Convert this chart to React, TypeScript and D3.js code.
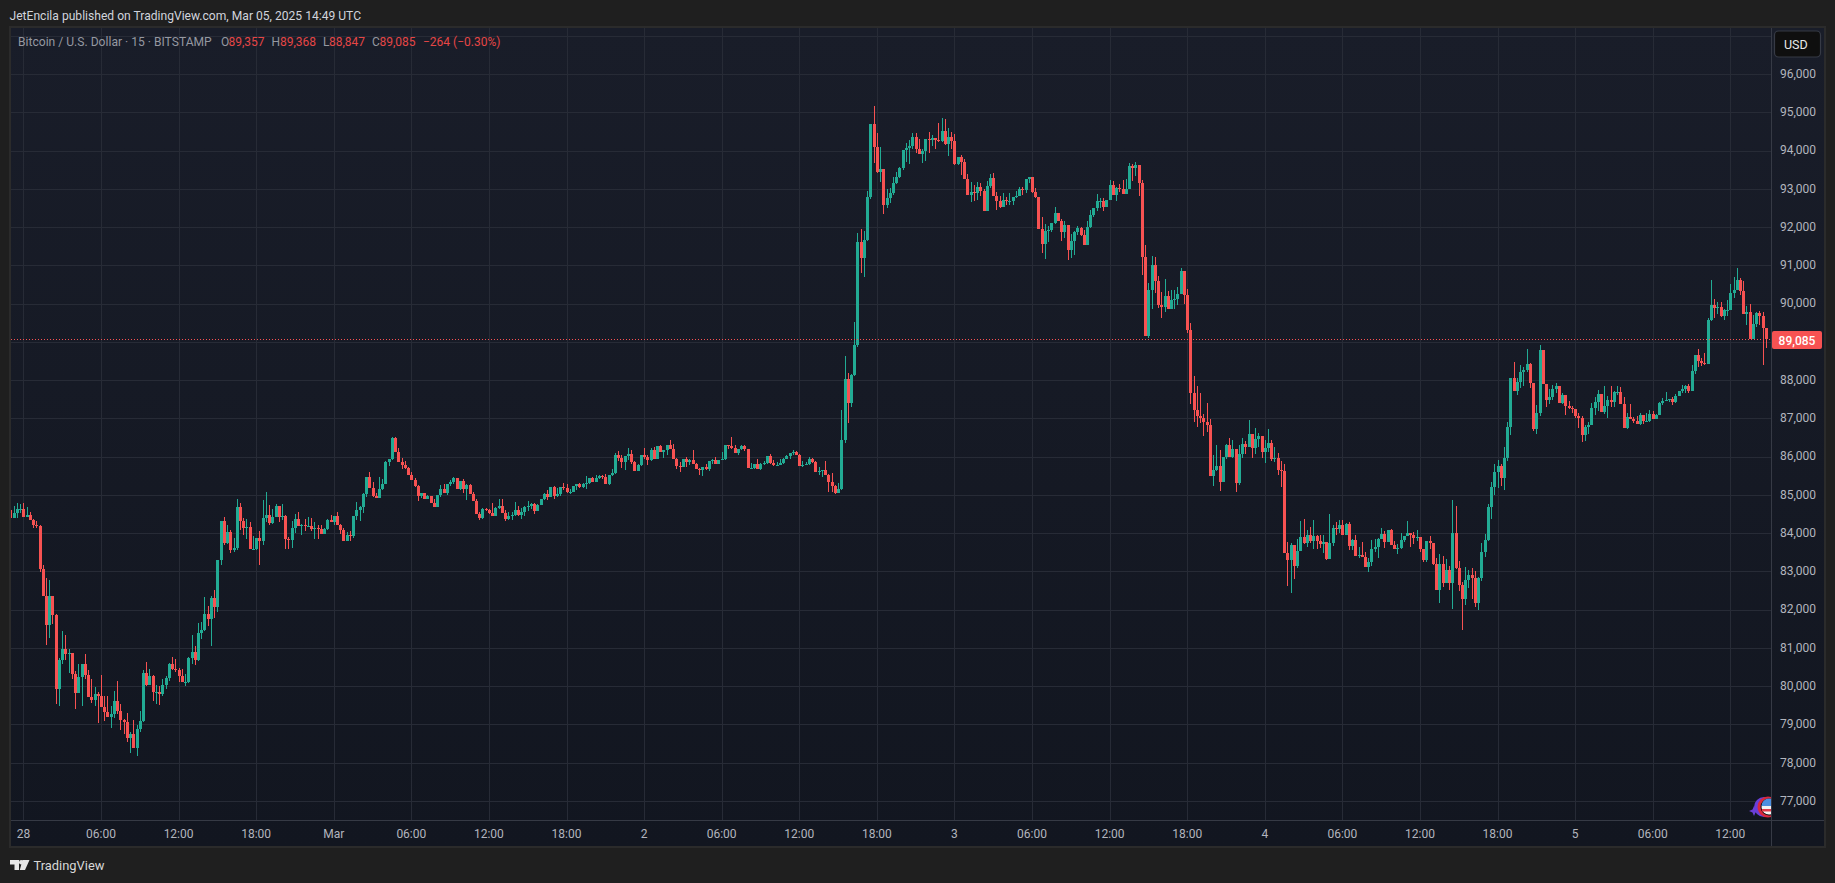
import React from 'react';
import * as d3 from 'd3';

const WIDTH = 1835;
const HEIGHT = 883;

// BTCUSD 15m candles, opens follow the previous close
const firstOpen = 84610;

const closesA = [84390, 84520, 84630, 84630, 84430, 84470, 84350, 84220, 84190, 83070, 82360, 81600, 82360, 81870, 79930, 80690, 80980, 80850, 80880, 80320, 79830, 80250, 80580, 80280, 79720, 79640, 79800, 79750, 79460, 79330, 79200, 79280, 79620, 79360, 79120, 79070, 78650, 78760, 78390, 78890, 79090, 80350, 80040, 80270, 79850, 79850, 79800, 80040, 80220, 80580, 80450, 80430, 80270, 80110, 80110, 80740, 80900, 80690, 81390, 81470, 81890, 81760, 82310, 82070, 83300, 84320, 83740, 84030, 83560, 83620, 84690, 84320, 84140, 84160, 83590, 83590, 83880, 83800, 84400, 84480, 84270, 84425, 84710, 84425, 84450, 83850, 83820, 84140, 84370, 84190];
const highsA = [84634, 84713, 84782, 84765, 84782, 84678, 84547, 84364, 84312, 84216, 83171, 82823, 82779, 82361, 81882, 80732, 81446, 81342, 80976, 80819, 80410, 80584, 80584, 80845, 80427, 80192, 79983, 79852, 80297, 79748, 79748, 79487, 79879, 80140, 79539, 79147, 79304, 78807, 79121, 78990, 79356, 80427, 80636, 80453, 80297, 80035, 80009, 80192, 80271, 80610, 80767, 80715, 80480, 80453, 80323, 80767, 81342, 81054, 81655, 81682, 82335, 82100, 82361, 82518, 83302, 84321, 84425, 84216, 84086, 83876, 84896, 84791, 84399, 84373, 84295, 83929, 83876, 84059, 84869, 85078, 84739, 84634, 84765, 84713, 84765, 84477, 83903, 84321, 84504, 84556];
const lowsA = [84347, 84408, 84408, 84521, 84434, 84434, 84347, 84146, 84146, 82997, 82361, 81081, 81272, 81629, 79539, 79487, 80584, 80689, 80340, 80192, 79408, 79905, 79487, 80192, 79722, 79565, 79487, 79042, 79461, 79095, 79199, 78912, 79173, 79278, 78860, 78755, 78546, 78259, 78389, 78180, 78807, 79069, 80009, 80035, 79617, 79539, 79513, 79748, 79931, 80140, 80427, 80375, 80114, 80114, 80009, 80088, 80584, 80558, 80663, 81237, 81446, 81577, 81054, 81786, 81943, 83171, 83694, 83720, 83485, 83511, 83563, 84086, 83955, 83850, 83589, 83563, 83563, 83171, 83694, 84303, 84216, 84242, 84425, 84295, 84347, 83589, 83589, 83615, 84007, 84190];

const closesB = [84216, 84190, 84190, 84111, 84137, 84111, 83981, 84111, 84346, 84294, 84451, 84216, 84085, 83798, 83954, 83928, 84451, 84608, 84686, 85026, 85470, 85183, 84974, 84921, 85156, 85287, 85862, 85940, 86489, 86123, 85862, 85784, 85705, 85522, 85392, 85235, 84974, 85052, 84895, 84974, 84791, 84686, 85000, 85156, 85052, 85287, 85339, 85444, 85156, 85366, 85156, 85261, 85026, 84843, 84503, 84399, 84634, 84608, 84529, 84451, 84660, 84712, 84529, 84373, 84451, 84477, 84608, 84477, 84555, 84686, 84712, 84765, 84582, 84738, 84895, 85026, 84947, 85209, 84974, 85026, 85209, 85183, 85078, 85078, 85235, 85287, 85209, 85287, 85313, 85444, 85339, 85444, 85496];
const highsB = [84242, 84373, 84425, 84399, 84294, 84216, 84216, 84137, 84373, 84477, 84451, 84555, 84242, 84137, 84033, 84059, 84451, 84817, 84712, 85052, 85470, 85601, 85339, 85052, 85470, 85418, 85888, 85940, 86515, 86515, 86228, 85966, 85888, 85731, 85601, 85444, 85261, 85052, 85052, 85000, 84974, 84895, 85000, 85261, 85287, 85287, 85392, 85470, 85444, 85366, 85418, 85287, 85287, 85078, 84895, 84555, 84660, 84660, 84634, 84791, 84686, 84895, 84895, 84608, 84555, 84555, 84817, 84712, 84660, 84712, 84843, 84791, 84791, 84765, 84895, 85052, 85130, 85209, 85235, 85183, 85209, 85313, 85287, 85156, 85235, 85287, 85313, 85313, 85496, 85444, 85470, 85522, 85522];
const lowsB = [83954, 84059, 84164, 84059, 83850, 83850, 83981, 83981, 84085, 84294, 84216, 84216, 83981, 83798, 83798, 83798, 83876, 84346, 84320, 84529, 84947, 85183, 84947, 84921, 84947, 85130, 85287, 85757, 85914, 86123, 85862, 85679, 85679, 85522, 85392, 85209, 84843, 84921, 84895, 84895, 84791, 84686, 84686, 84947, 85052, 85000, 85235, 85287, 85156, 85130, 85052, 84869, 85026, 84843, 84503, 84346, 84373, 84582, 84503, 84451, 84451, 84634, 84529, 84320, 84346, 84346, 84451, 84451, 84373, 84451, 84582, 84634, 84503, 84582, 84738, 84869, 84869, 84947, 84895, 84947, 84974, 85130, 85052, 85026, 85078, 85130, 85183, 85183, 85156, 85287, 85339, 85339, 85418];

const closesC = [85470, 85287, 85522, 85575, 86045, 85966, 85862, 86019, 86071, 85862, 85627, 85784, 86045, 85993, 85914, 86176, 85940, 86280, 86123, 86176, 86306, 86202, 85940, 85757, 85731, 85940, 85862, 85914, 85810, 85679, 85653, 85731, 85679, 85888, 85914, 85810, 85914, 85940, 86306, 86280, 86228, 86097, 86202, 86280, 86202, 85705, 85705, 85810, 85679, 85810, 85836, 86019, 85836, 85784, 85784, 85836, 85940, 86019, 86097, 86123, 86045, 85757, 85784, 85810, 85940, 85862, 85601, 85627, 85653, 85522, 85339, 85235, 85052, 85156, 86437, 88030, 87400, 88135, 88920];
const highsC = [85522, 85548, 85522, 85679, 86097, 86149, 86045, 86019, 86228, 86176, 85888, 85810, 86045, 86228, 86045, 86228, 86254, 86280, 86306, 86176, 86306, 86437, 86332, 85966, 85862, 85940, 85993, 85940, 86176, 85836, 85705, 85731, 85810, 85888, 85940, 85993, 85914, 86123, 86306, 86306, 86515, 86306, 86202, 86306, 86306, 86202, 85836, 85810, 85940, 85827, 85888, 86019, 86071, 85914, 85862, 85940, 85966, 86045, 86097, 86176, 86149, 86071, 85888, 85862, 85993, 85966, 85888, 85731, 85653, 85888, 85548, 85575, 85261, 85313, 87220, 88630, 88190, 88160, 89520];
const lowsC = [85418, 85287, 85261, 85496, 85548, 85888, 85705, 85653, 85914, 85810, 85627, 85627, 85757, 85940, 85784, 85888, 85940, 85966, 86123, 85966, 86045, 86202, 85940, 85679, 85601, 85731, 85731, 85784, 85810, 85679, 85522, 85496, 85653, 85627, 85810, 85810, 85810, 85914, 85914, 86202, 86202, 86097, 86045, 86176, 86149, 85705, 85679, 85679, 85679, 85653, 85784, 85810, 85810, 85757, 85784, 85784, 85810, 85940, 85940, 86045, 86045, 85757, 85731, 85784, 85784, 85836, 85601, 85522, 85470, 85522, 85078, 85078, 85026, 85052, 85130, 86367, 86880, 87300, 88110];

const closesD = [91610, 91190, 91660, 92787, 94695, 94094, 93440, 93519, 92578, 92761, 92892, 93153, 93310, 93545, 94015, 94067, 94120, 94355, 94041, 93911, 93989, 94303, 94276, 94329, 94276, 94250, 94512, 94172, 94355, 94250, 93649, 93832, 93702, 93257, 92840, 92918, 92892, 93048, 92944, 92421, 93075, 93284, 92813, 92683, 92526, 92709, 92683, 92683, 92787, 92813, 92996, 92970, 93257, 93310, 92918, 92787, 91951, 91559, 91899, 91925, 92108, 92369, 92160, 91873, 92055, 91402, 91637, 91873, 91977, 91794, 91533, 92003, 92317, 92500, 92683, 92683, 92526, 92709, 93101, 92840, 93022, 92996, 92866, 92996, 93597, 93545, 93623, 93153];
const highsD = [91850, 91950, 91900, 92944, 94695, 95165, 94460, 94094, 93519, 92996, 93022, 93310, 93440, 93570, 94015, 94198, 94276, 94460, 94460, 94303, 94041, 94303, 94486, 94407, 94329, 94721, 94851, 94825, 94590, 94486, 94433, 93832, 93885, 93780, 93388, 93179, 93101, 93179, 93153, 93000, 93205, 93388, 93414, 92918, 92813, 92892, 92787, 92892, 92787, 92944, 93048, 93048, 93257, 93310, 93310, 93022, 92787, 92265, 92082, 92029, 92108, 92526, 92369, 92212, 92160, 92055, 91820, 91899, 92029, 92003, 91925, 92160, 92447, 92500, 92866, 92761, 92761, 92709, 93231, 93205, 93040, 93127, 93231, 93257, 93676, 93650, 93702, 93623];
const lowsD = [88867, 90800, 90700, 91637, 92735, 93676, 93415, 93179, 92343, 92500, 92630, 92840, 93127, 93285, 93493, 93702, 93650, 94041, 93937, 93911, 93676, 93728, 93937, 94120, 94041, 94224, 94224, 94146, 93858, 94041, 93623, 93623, 93362, 93257, 92840, 92656, 92683, 92709, 92813, 92421, 92421, 93022, 92813, 92447, 92500, 92526, 92578, 92578, 92578, 92761, 92813, 92840, 92892, 93153, 92892, 92761, 91951, 91324, 91167, 91611, 91873, 92082, 92160, 91637, 91716, 91141, 91193, 91272, 91794, 91768, 91533, 91533, 91977, 92265, 92421, 92500, 92421, 92526, 92709, 92840, 92683, 92918, 92866, 92866, 92996, 93205, 93336, 92813];

const closesE = [91219, 89155, 90357, 91010, 90592, 89965, 89913, 90200, 89860, 90095, 90122, 90252, 90853, 90226, 89312, 87666, 87221, 87065, 87012, 86908, 86829, 85497, 85653, 85758, 85340, 85993, 86307, 85993, 86202, 85314, 86072, 86333, 86255, 86594, 86228, 86464, 86542, 86124, 86228, 86359, 85941, 85967, 85653, 85627, 83485, 83302, 83694, 83145, 83537, 83903, 83746, 83955, 83798, 83929, 83798, 83720, 83772, 83328, 83746, 84138, 84112, 84216, 83955, 84242, 83667, 83824, 83406, 83432, 83380, 83119, 83249, 83589, 83641, 83850, 83981, 83772, 84086, 83694, 83589, 83615, 83824, 83929, 84007, 83955, 83876, 83903, 83589, 83302, 83798, 83746, 83197, 82518, 83197, 82701, 83040, 82701, 84007, 83092, 82648, 82283, 82779, 82910, 82831, 82178, 82831, 83511, 83824, 84687, 85209, 85600, 85760, 85450, 85967];
const highsE = [93231, 91533, 90540, 91245, 91219, 90723, 90305, 90644, 90331, 90357, 90357, 90435, 90932, 90853, 90383, 89495, 88110, 87848, 87665, 87117, 87404, 86986, 86045, 86307, 86176, 85993, 86333, 86490, 86437, 86202, 86307, 86490, 86411, 86960, 86594, 86751, 86620, 86542, 86437, 86725, 86437, 86255, 86098, 85889, 85810, 83772, 83746, 83694, 83850, 84321, 84373, 84086, 84164, 84347, 83955, 83955, 83955, 83746, 84504, 84216, 84295, 84347, 84347, 84270, 84295, 83850, 83955, 83641, 83772, 83511, 83354, 83824, 83850, 83876, 84138, 84059, 84086, 84112, 83798, 83720, 84007, 83929, 84321, 84007, 84033, 84086, 83903, 83589, 83798, 83929, 83746, 83354, 83458, 83406, 83328, 83145, 84869, 84713, 83276, 82727, 83119, 83040, 83092, 83014, 82857, 83746, 83981, 84765, 85340, 85800, 85900, 85800, 86250];
const lowsE = [90749, 89155, 89103, 89860, 90280, 89887, 89625, 89782, 89860, 89965, 89860, 89965, 90252, 89991, 89233, 87378, 86908, 86777, 86882, 86542, 86646, 85497, 85235, 85627, 85105, 85340, 85941, 85993, 85967, 85079, 85262, 85967, 86072, 86255, 85967, 86072, 86255, 85967, 85836, 86124, 85889, 85863, 85523, 85209, 83485, 82622, 82440, 82805, 83093, 83537, 83720, 83642, 83746, 83589, 83589, 83615, 83485, 83302, 83328, 83660, 83955, 84007, 83955, 83981, 83563, 83563, 83406, 83354, 83380, 83119, 82988, 83145, 83511, 83354, 83850, 83615, 83772, 83694, 83589, 83458, 83589, 83772, 84007, 83641, 83720, 83798, 83511, 83249, 83249, 83589, 83171, 82518, 82178, 82596, 82701, 82518, 82021, 83066, 82492, 81473, 82126, 82570, 82283, 82073, 81995, 82753, 83380, 83790, 84373, 85000, 85183, 85235, 85130];

const closesF = [86777, 88057, 87718, 87953, 88214, 88266, 88423, 87927, 86725, 87143, 88789, 87901, 87483, 87561, 87770, 87848, 87404, 87613, 87326, 87273, 87247, 87064, 87012, 86568, 86777, 86829, 87273, 87430, 87640, 87169, 87326, 87483, 87430, 87692, 87692, 87378, 86751, 87038, 86986, 86934, 86855, 87090, 86934, 86934, 87117, 86986, 87090, 87404, 87456, 87483, 87509, 87430, 87587, 87718, 87770, 87848, 87718, 88240, 88658, 88502, 88449, 88423, 89573, 89965, 89886, 89913, 89677, 89834, 89834, 90278, 90357, 90618, 90331, 89730, 89782, 89076, 89468, 89756, 89677, 89357, 89085];
const highsF = [86908, 88057, 88475, 88057, 88397, 88345, 88815, 88449, 87927, 87352, 88920, 88789, 87901, 87770, 87875, 87927, 87848, 87665, 87613, 87456, 87326, 87247, 87143, 87064, 86829, 86908, 87404, 87560, 87744, 87640, 87848, 87587, 87848, 87718, 87848, 87822, 87560, 87143, 87378, 87038, 87064, 87143, 87090, 87143, 87221, 87195, 87117, 87430, 87535, 87692, 87509, 87560, 87640, 87718, 87875, 87875, 87900, 88397, 88658, 88815, 88580, 88711, 89625, 90618, 90122, 90043, 90043, 89860, 90095, 90514, 90697, 90932, 90670, 90592, 89939, 89991, 89704, 89782, 89808, 89782, 89368];
const lowsF = [85890, 86568, 87718, 87613, 87796, 87848, 88214, 87796, 86672, 86594, 87065, 87901, 87300, 87378, 87483, 87665, 87404, 87378, 87090, 87247, 87143, 87012, 86751, 86385, 86411, 86594, 86829, 87090, 87195, 87169, 87117, 87012, 87300, 87300, 87613, 87378, 86751, 86725, 86986, 86881, 86855, 86829, 86855, 86908, 86908, 86986, 86986, 87090, 87352, 87456, 87430, 87352, 87404, 87587, 87665, 87665, 87665, 87718, 88162, 88345, 88371, 88397, 88423, 89547, 89625, 89730, 89651, 89573, 89677, 89834, 90148, 90383, 90226, 89730, 89442, 89076, 89102, 89390, 89442, 88397, 88847];

const closes = [...closesA, ...closesB, ...closesC, ...closesD, ...closesE, ...closesF];
const highs = [...highsA, ...highsB, ...highsC, ...highsD, ...highsE, ...highsF];
const lows = [...lowsA, ...lowsB, ...lowsC, ...lowsD, ...lowsE, ...lowsF];

const lastPrice = 89085;
const priceLabels = d3.range(77000, 97000, 1000);
const gridPrices = d3.range(77000, 98000, 1000);
const timeLabels = ['28', '06:00', '12:00', '18:00', 'Mar', '06:00', '12:00', '18:00', '2', '06:00', '12:00', '18:00', '3', '06:00', '12:00', '18:00', '4', '06:00', '12:00', '18:00', '5', '06:00', '12:00'];
const BARS_PER_TICK = 24;
const FIRST_TICK_BAR = 4;

const legendValues = [
  { key: 'O', value: '89,357', kx: 221, vx: 228.5 },
  { key: 'H', value: '89,368', kx: 271.5, vx: 280 },
  { key: 'L', value: '88,847', kx: 323, vx: 329 },
  { key: 'C', value: '89,085', kx: 372, vx: 379.5 },
];

const UP = '#22ab94';
const DOWN = '#f75252';
const LEGEND_RED = '#e54646';
const GRID = '#272b36';
const FONT = 'Roboto, sans-serif';

const paneLeft = 11;
const paneRight = 1771;
const paneTop = 28;
const paneBottom = 820;

const x = d3.scaleLinear().domain([FIRST_TICK_BAR, FIRST_TICK_BAR + 528]).range([23.4, 1730.3]);
const y = d3.scaleLinear().domain([77000, 96000]).range([801, 74]);

const App: React.FC = () => {
  const candles = closes.map((close, i) => ({
    i,
    open: i === 0 ? firstOpen : closes[i - 1],
    close,
    high: highs[i],
    low: lows[i],
  }));

  return (
    <svg
      width={WIDTH}
      height={HEIGHT}
      style={{ position: 'fixed', left: 0, top: 0, display: 'block', fontFamily: FONT }}
    >
      <defs>
        <linearGradient id="paneBg" x1="0" y1="0" x2="0" y2="1">
          <stop offset="0" stopColor="#191d29" />
          <stop offset="1" stopColor="#121620" />
        </linearGradient>
        <clipPath id="paneClip">
          <rect x={paneLeft} y={paneTop} width={paneRight - paneLeft} height={paneBottom - paneTop} />
        </clipPath>
      </defs>

      <rect width={WIDTH} height={HEIGHT} fill="#1f1f1f" />
      <rect x={9} y={26} width={1817} height={822} fill="#2b2b2b" />
      <rect x={paneLeft} y={paneTop} width={1824 - paneLeft} height={846 - paneTop} fill="url(#paneBg)" />

      <text x={9.5} y={19.5} fontSize={12.1} fill="#d1d4dc">
        JetEncila published on TradingView.com, Mar 05, 2025 14:49 UTC
      </text>

      {/* grid */}
      <g shapeRendering="crispEdges" stroke={GRID}>
        {gridPrices.map(p => (
          <line key={p} x1={paneLeft} x2={paneRight} y1={Math.round(y(p)) + 0.5} y2={Math.round(y(p)) + 0.5} />
        ))}
        {timeLabels.map((_, k) => {
          const px = Math.round(x(FIRST_TICK_BAR + k * BARS_PER_TICK)) + 0.5;
          return <line key={k} x1={px} x2={px} y1={paneTop} y2={paneBottom} />;
        })}
      </g>

      {/* candles */}
      <g clipPath="url(#paneClip)" shapeRendering="crispEdges">
        {candles.map(d => {
          const px = Math.round(x(d.i));
          const color = d.close >= d.open ? UP : DOWN;
          const top = Math.round(y(Math.max(d.open, d.close)));
          const bottom = Math.round(y(Math.min(d.open, d.close)));
          const wickTop = Math.round(y(d.high));
          const wickBottom = Math.round(y(d.low));
          return (
            <g key={d.i} fill={color}>
              <rect x={px} y={wickTop} width={1} height={Math.max(1, wickBottom - wickTop)} />
              <rect x={px - 1} y={top} width={3} height={Math.max(1, bottom - top)} />
            </g>
          );
        })}
      </g>

      {/* last price line */}
      <line
        x1={paneLeft}
        x2={paneRight}
        y1={Math.round(y(lastPrice)) + 0.5}
        y2={Math.round(y(lastPrice)) + 0.5}
        stroke={DOWN}
        strokeDasharray="1 2"
        shapeRendering="crispEdges"
      />

      {/* legend */}
      <text x={18} y={46} fontSize={12.1} fill="#9598a1">Bitcoin / U.S. Dollar · 15 · BITSTAMP</text>
      {legendValues.map(d => (
        <g key={d.key} fontSize={12}>
          <text x={d.kx} y={46} fill="#9598a1">{d.key}</text>
          <text x={d.vx} y={46} fill={LEGEND_RED}>{d.value}</text>
        </g>
      ))}
      <text x={423} y={46} fontSize={12} fill={LEGEND_RED}>−264 (−0.30%)</text>

      {/* price scale */}
      <g shapeRendering="crispEdges" stroke="#363a45">
        <line x1={paneRight + 0.5} x2={paneRight + 0.5} y1={paneTop} y2={846} />
        <line x1={paneLeft} x2={1824} y1={paneBottom + 0.5} y2={paneBottom + 0.5} />
      </g>
      {priceLabels.map(p => (
        <text key={p} x={1816} y={y(p) + 3.8} textAnchor="end" fontSize={12} fill="#b2b5be">
          {d3.format(',')(p)}
        </text>
      ))}
      <rect x={1774.5} y={31} width={46} height={26} rx={4} fill="#0f0f0f" stroke="#363a45" strokeWidth={1.2} />
      <text x={1784} y={48.5} fontSize={12.5} fill="#e8e8e8">USD</text>

      <rect x={1772} y={331} width={50} height={18} rx={2} fill={DOWN} />
      <text x={1797} y={344.5} textAnchor="middle" fontSize={12} fontWeight={500} fill="#ffffff">89,085</text>

      {/* time scale */}
      {timeLabels.map((label, k) => (
        <text
          key={k}
          x={x(FIRST_TICK_BAR + k * BARS_PER_TICK)}
          y={837.5}
          textAnchor="middle"
          fontSize={12}
          fill="#b2b5be"
        >
          {label}
        </text>
      ))}

      {/* event badge */}
      <g clipPath="url(#badgeClip)">
        <clipPath id="badgeClip">
          <rect x={1740} y={790} width={31} height={30} />
        </clipPath>
        <circle cx={1764} cy={807} r={10} fill="#6a3fd8" />
        <circle cx={1768} cy={807} r={10.5} fill="#d9283c" />
        <circle cx={1769} cy={807} r={8.5} fill="#111" />
        <circle cx={1769} cy={807} r={7.5} fill="#f2f2f2" />
        <path d="M1761.5 806 A7.5 7.5 0 0 1 1776.5 806 Z" fill="#4b8fe0" />
        <rect x={1762} y={809} width={14} height={2.5} fill="#e23b4a" />
      </g>
      <path d="M1754 806 L1755.5 809.5 L1759 811 L1755.5 812.5 L1754 816 L1752.5 812.5 L1749 811 L1752.5 809.5 Z" fill="#6a3fd8" />

      {/* footer logo */}
      <path
        d="M10 860 H19 V870 H14.5 V864.5 H10 Z M22.5 860 H29.5 L25 870 H19.8 Z"
        fill="#e8e8e8"
      />
      <circle cx={21.2} cy={862.2} r={2.2} fill="#e8e8e8" />
      <text x={33.5} y={869.5} fontSize={12.9} fill="#d8d8d8">TradingView</text>
    </svg>
  );
};

export default App;
